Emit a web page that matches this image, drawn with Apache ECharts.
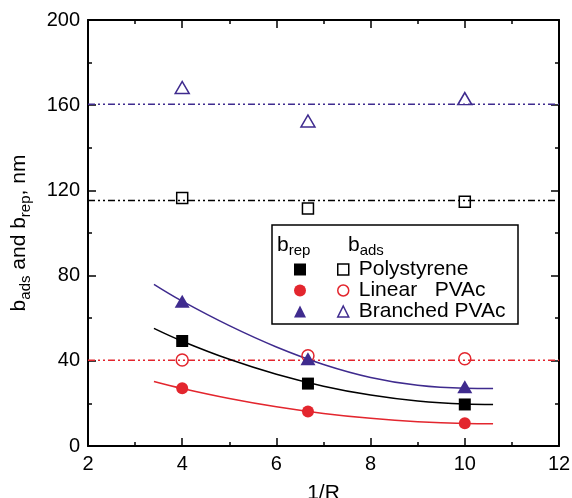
<!DOCTYPE html>
<html>
<head>
<meta charset="utf-8">
<script src="https://cdn.jsdelivr.net/npm/echarts@6/dist/echarts.min.js"></script>
<style>
  html, body { margin: 0; padding: 0; background: #fff; }
  #chart { width: 572px; height: 498px; }
</style>
</head>
<body>
<div id="chart"></div>
<script>
// Measured points, x = 1/R
const xMeasured = [4, 6.67, 10];
// b_rep (filled symbols)
const psRep  = [49.3, 29.3, 19.5];
const linRep = [27.1, 16.2, 10.7];
const brRep  = [68.0, 41.0, 27.8];
// b_ads (open symbols)
const psAds  = [116.4, 111.5, 114.7];
const linAds = [40.4, 42.4, 41.0];
const brAds  = [168.3, 152.6, 163.1];
// average b_ads levels drawn as dash-dot lines across the plot
const adsLevelPS  = [115.3, 115.3];
const adsLevelLin = [40.3, 40.3];
const adsLevelBr  = [160.4, 160.4];
const levelX = [2, 12];
// fitted b_rep curves
const fitX   = [3.4, 4, 5, 6, 7, 8, 9, 10, 10.6];
const psFit  = [55.2, 49.2, 40.7, 33.7, 28.1, 23.9, 21.1, 19.7, 19.5];
const linFit = [30.3, 27.0, 22.3, 18.4, 15.3, 13.0, 11.4, 10.6, 10.5];
const brFit  = [75.9, 68.0, 56.5, 46.5, 38.3, 32.2, 28.5, 27.1, 27.0];
// axis ranges: min, max, step
const xRange = [2, 12, 2];
const yRange = [0, 200, 40];
// legend labels
const materials = ['Polystyrene', 'Linear   PVAc', 'Branched PVAc'];

const FONT = '"Liberation Sans", Arial, Helvetica, sans-serif';
const BLACK = '#000000';
const RED = '#e3262e';
const BLUE = '#3f2b8e';
const DASHDOTDOT = [7, 3, 2, 3, 2, 3];

const zip = (xs, ys) => xs.map((x, i) => [x, ys[i]]);

function axisCommon(showLabels) {
  return {
    type: 'value',
    axisLine: { show: true, onZero: false, lineStyle: { color: BLACK, width: 2 } },
    axisTick: { show: true, inside: true, length: 8, lineStyle: { color: BLACK, width: 1.5 } },
    minorTick: { show: true, splitNumber: 2, length: 4, lineStyle: { color: BLACK, width: 1.5 } },
    splitLine: { show: false },
    axisLabel: { show: showLabels, color: BLACK, fontSize: 20, fontFamily: FONT, margin: 8 }
  };
}

function levelLine(name, ys, color) {
  return {
    name, type: 'line', data: zip(levelX, ys), showSymbol: false, silent: true,
    lineStyle: { color, width: 1.5, type: DASHDOTDOT }, z: 1
  };
}
function fitLine(name, ys, color) {
  return {
    name, type: 'line', data: zip(fitX, ys), smooth: 0.4, showSymbol: false, silent: true,
    lineStyle: { color, width: 1.5 }, z: 2
  };
}
function filled(name, ys, color, symbol, size) {
  return {
    name, type: 'scatter', data: zip(xMeasured, ys), symbol, symbolSize: size,
    itemStyle: { color, opacity: 1 }, z: 4
  };
}
function open(name, ys, color, symbol, size) {
  return {
    name, type: 'scatter', data: zip(xMeasured, ys), symbol, symbolSize: size,
    itemStyle: { color: 'rgba(0,0,0,0)', borderColor: color, borderWidth: 1.5, opacity: 1 }, z: 3
  };
}

const repNames = ['PS rep', 'Linear rep', 'Branched rep'];
const colors = [BLACK, RED, BLUE];
const symbols = ['rect', 'circle', 'triangle'];

const subRich = {
  m: { fontSize: 21, lineHeight: 26, fontFamily: FONT, fill: BLACK },
  s: { fontSize: 15, lineHeight: 15, verticalAlign: 'bottom', fontFamily: FONT, fill: BLACK }
};
const titleRich = {
  m: { fontSize: 21, lineHeight: 28, fontFamily: FONT, fill: BLACK },
  s: { fontSize: 15, lineHeight: 15, verticalAlign: 'bottom', fontFamily: FONT, fill: BLACK }
};

const chart = echarts.init(document.getElementById('chart'), null, { renderer: 'canvas' });
chart.setOption({
  animation: false,
  backgroundColor: '#ffffff',
  textStyle: { fontFamily: FONT },
  grid: { left: 88, right: 13, top: 20, bottom: 52, containLabel: false, outerBoundsMode: 'none' },
  xAxis: [
    Object.assign(axisCommon(true), {
      min: xRange[0], max: xRange[1], interval: xRange[2], position: 'bottom',
      name: '1/R', nameLocation: 'middle', nameGap: 37,
      nameTextStyle: { color: BLACK, fontSize: 21, fontFamily: FONT }
    }),
    Object.assign(axisCommon(false), { min: xRange[0], max: xRange[1], interval: xRange[2], position: 'top' })
  ],
  yAxis: [
    Object.assign(axisCommon(true), { min: yRange[0], max: yRange[1], interval: yRange[2], position: 'left' }),
    Object.assign(axisCommon(false), { min: yRange[0], max: yRange[1], interval: yRange[2], position: 'right' })
  ],
  legend: [
    {
      selectedMode: false, orient: 'vertical', left: 289, top: 254, itemGap: 0,
      itemWidth: 12, itemHeight: 12,
      formatter: () => ' ',
      textStyle: { fontSize: 21, lineHeight: 20, fontFamily: FONT, color: BLACK },
      data: repNames.map((n, i) => ({ name: n, icon: symbols[i], itemStyle: { color: colors[i], borderWidth: 0 } }))
    },
    {
      selectedMode: false, orient: 'vertical', left: 332, top: 254, itemGap: 0,
      itemWidth: 11, itemHeight: 11,
      textStyle: { fontSize: 21, lineHeight: 20, fontFamily: FONT, color: BLACK, padding: [0, 0, 0, 5] },
      data: materials.map((n, i) => ({
        name: n, icon: symbols[i],
        itemStyle: { color: 'rgba(0,0,0,0)', borderColor: colors[i], borderWidth: 1.5 }
      }))
    }
  ],
  graphic: [
    {
      type: 'rect', z: 0, silent: true,
      shape: { x: 272, y: 225, width: 246, height: 99 },
      style: { fill: '#ffffff', stroke: BLACK, lineWidth: 1.5 }
    },
    {
      type: 'text', z: 10, silent: true, x: 277, y: 245,
      style: { text: '{m|b}{s|rep}', verticalAlign: 'middle', fill: BLACK, rich: subRich }
    },
    {
      type: 'text', z: 10, silent: true, x: 348, y: 245,
      style: { text: '{m|b}{s|ads}', verticalAlign: 'middle', fill: BLACK, rich: subRich }
    },
    {
      type: 'text', z: 10, silent: true, x: 19, y: 233, rotation: Math.PI / 2,
      style: {
        text: '{m|b}{s|ads}{m| and b}{s|rep}{m|, nm}', align: 'center', verticalAlign: 'middle',
        fill: BLACK, rich: titleRich
      }
    }
  ],
  series: [
    levelLine('PS ads level', adsLevelPS, BLACK),
    levelLine('Linear ads level', adsLevelLin, RED),
    levelLine('Branched ads level', adsLevelBr, BLUE),
    fitLine('PS fit', psFit, BLACK),
    fitLine('Linear fit', linFit, RED),
    fitLine('Branched fit', brFit, BLUE),
    open(materials[0], psAds, BLACK, 'rect', 11),
    open(materials[1], linAds, RED, 'circle', 12),
    open(materials[2], brAds, BLUE, 'triangle', [14, 12]),
    filled(repNames[0], psRep, BLACK, 'rect', 12),
    filled(repNames[1], linRep, RED, 'circle', 12),
    filled(repNames[2], brRep, BLUE, 'triangle', [15, 13])
  ]
});
</script>
</body>
</html>
